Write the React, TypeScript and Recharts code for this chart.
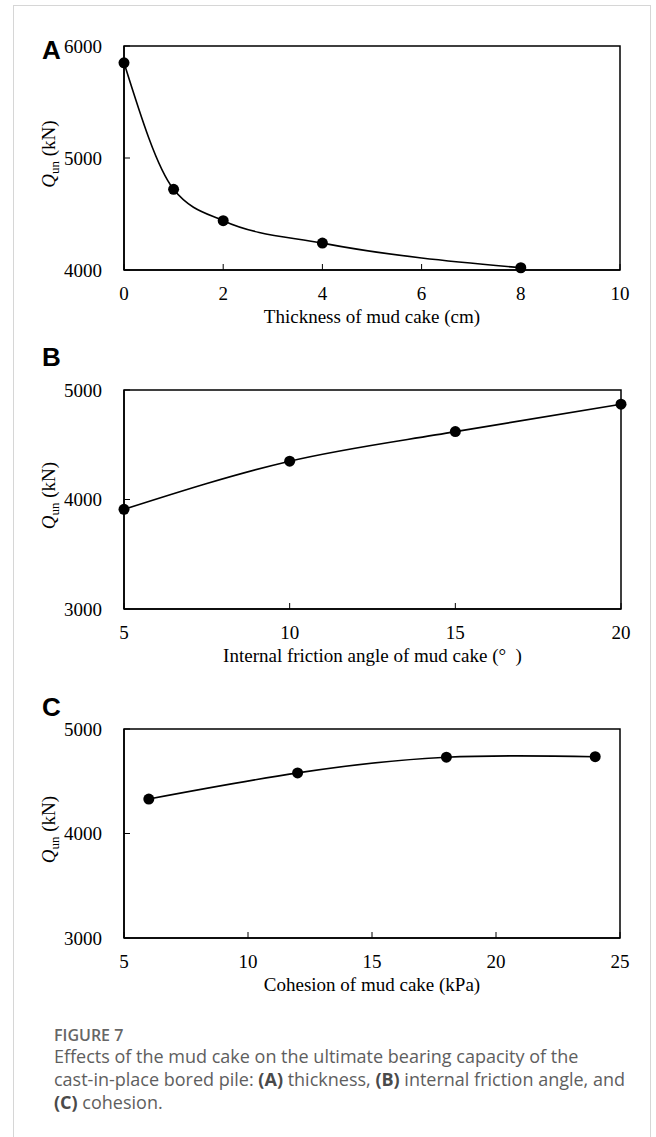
import { LineChart, Line, XAxis, YAxis, ReferenceArea } from 'recharts';

// (A) thickness of mud cake
const thickness = [0, 1, 2, 4, 8];
const qThickness = [5850, 4720, 4440, 4240, 4020];
const thicknessTicks = [0, 2, 4, 6, 8, 10];
const qTicksA = [4000, 5000, 6000];

// (B) internal friction angle
const frictionAngle = [5, 10, 15, 20];
const qFriction = [3910, 4350, 4620, 4870];
const frictionTicks = [5, 10, 15, 20];

// (C) cohesion
const cohesion = [6, 12, 18, 24];
const qCohesion = [4330, 4580, 4730, 4735];
const cohesionTicks = [5, 10, 15, 20, 25];
const qTicksBC = [3000, 4000, 5000];

const SERIF = '"Liberation Serif", "Times New Roman", serif';
const SANS = '"Liberation Sans", Arial, sans-serif';
const CAPTION = '"Open Sans", "Noto Sans", sans-serif';

const serifText = { fontFamily: SERIF, fontSize: 19, fill: '#000' };

function XTick({ x, y, payload }: any) {
  return (
    <text x={x} y={y} dy="0.71em" textAnchor="middle" fontFamily={SERIF} style={serifText}>
      {payload.value}
    </text>
  );
}

function YTick({ x, y, payload }: any) {
  return (
    <text x={x} y={y} dy="0.35em" textAnchor="end" fontFamily={SERIF} style={serifText}>
      {payload.value}
    </text>
  );
}

function YTitle(props: any) {
  const vb = props.viewBox || {};
  const cx = vb.x - 9;
  const cy = vb.y + vb.height / 2 - 4;
  return (
    <text x={cx} y={cy} transform={`rotate(-90, ${cx}, ${cy})`} textAnchor="middle" style={serifText}>
      <tspan fontStyle="italic">Q</tspan>
      <tspan fontSize={13} dy={4}>un</tspan>
      <tspan dy={-4}>{'\u00A0(kN)'}</tspan>
    </text>
  );
}

function XTitle({ text, ...props }: any) {
  const vb = props.viewBox || {};
  return (
    <text x={vb.x + vb.width / 2} y={vb.y + 53} textAnchor="middle" style={serifText}>
      {text}
    </text>
  );
}

type PanelProps = {
  top: number;
  height: number;
  margin: { top: number; right: number; bottom: number; left: number };
  xs: number[];
  ys: number[];
  xDomain: [number, number];
  xTicks: number[];
  yDomain: [number, number];
  yTicks: number[];
  xTitle: string;
  curve: 'monotone' | 'natural';
};

function Panel({ top, height, margin, xs, ys, xDomain, xTicks, yDomain, yTicks, xTitle, curve }: PanelProps) {
  const data = xs.map((x, i) => ({ x, q: ys[i] }));
  return (
    <div style={{ position: 'absolute', left: 0, top }}>
      <LineChart width={656} height={height} data={data} margin={margin}>
        <ReferenceArea x1={xDomain[0]} x2={xDomain[1]} y1={yDomain[0]} y2={yDomain[1]} fill="none" stroke="#000" strokeWidth={1.5} fillOpacity={0} />
        <XAxis
          type="number"
          dataKey="x"
          domain={xDomain}
          ticks={xTicks}
          height={50}
          tickSize={-6}
          tickMargin={23}
          axisLine={{ stroke: '#000', strokeWidth: 1.5 }}
          tickLine={{ stroke: '#000', strokeWidth: 1 }}
          tick={(p: any) => <XTick {...p} />}
          label={{ content: (p: any) => <XTitle {...p} text={xTitle} /> }}
        />
        <YAxis
          type="number"
          domain={yDomain}
          ticks={yTicks}
          width={60}
          tickSize={-6}
          tickMargin={28}
          axisLine={{ stroke: '#000', strokeWidth: 1.5 }}
          tickLine={{ stroke: '#000', strokeWidth: 1 }}
          tick={(p: any) => <YTick {...p} />}
          label={{ content: (p: any) => <YTitle {...p} /> }}
        />
        <Line
          type={curve}
          dataKey="q"
          stroke="#000"
          strokeWidth={1.6}
          dot={{ r: 5.5, fill: '#000', stroke: '#000', strokeWidth: 0 }}
          activeDot={false}
          isAnimationActive={false}
        />
      </LineChart>
    </div>
  );
}

const letterStyle = { position: 'absolute' as const, left: 42, fontFamily: SANS, fontWeight: 700, fontSize: 26, lineHeight: 1 };
const boldCap = { color: '#4a4a4a', fontWeight: 700 };

export default function App() {
  return (
    <div style={{ position: 'absolute', left: 0, top: 0, width: 656, height: 1137, background: '#fff', overflow: 'hidden' }}>
      <div style={{ position: 'absolute', left: 13, top: 5, width: 636, height: 1140, border: '1px solid #d6d6d6' }} />

      <Panel
        top={0}
        height={340}
        margin={{ top: 46, right: 36, bottom: 20, left: 64 }}
        xs={thickness}
        ys={qThickness}
        xDomain={[0, 10]}
        xTicks={thicknessTicks}
        yDomain={[4000, 6000]}
        yTicks={qTicksA}
        xTitle="Thickness of mud cake (cm)"
        curve="monotone"
      />
      <Panel
        top={330}
        height={340}
        margin={{ top: 60, right: 35, bottom: 11, left: 64 }}
        xs={frictionAngle}
        ys={qFriction}
        xDomain={[5, 20]}
        xTicks={frictionTicks}
        yDomain={[3000, 5000]}
        yTicks={qTicksBC}
        xTitle={'Internal friction angle of mud cake (°\u00A0\u00A0)'}
        curve="monotone"
      />
      <Panel
        top={680}
        height={330}
        margin={{ top: 49, right: 36, bottom: 22, left: 64 }}
        xs={cohesion}
        ys={qCohesion}
        xDomain={[5, 25]}
        xTicks={cohesionTicks}
        yDomain={[3000, 5000]}
        yTicks={qTicksBC}
        xTitle="Cohesion of mud cake (kPa)"
        curve="natural"
      />

      <div style={{ ...letterStyle, top: 37 }}>A</div>
      <div style={{ ...letterStyle, top: 344 }}>B</div>
      <div style={{ ...letterStyle, top: 694 }}>C</div>

      <div style={{ position: 'absolute', left: 54, top: 1027, fontFamily: CAPTION, fontSize: 16, fontWeight: 600, lineHeight: '16px', color: '#666' }}>
        FIGURE 7
      </div>
      <div style={{ position: 'absolute', left: 54, top: 1045, fontFamily: CAPTION, fontSize: 18, lineHeight: '23px', color: '#5e5e5e', whiteSpace: 'nowrap' }}>
        Effects of the mud cake on the ultimate bearing capacity of the
        <br />
        cast-in-place bored pile: <span style={boldCap}>(A)</span> thickness, <span style={boldCap}>(B)</span> internal friction angle, and
        <br />
        <span style={boldCap}>(C)</span> cohesion.
      </div>
    </div>
  );
}
